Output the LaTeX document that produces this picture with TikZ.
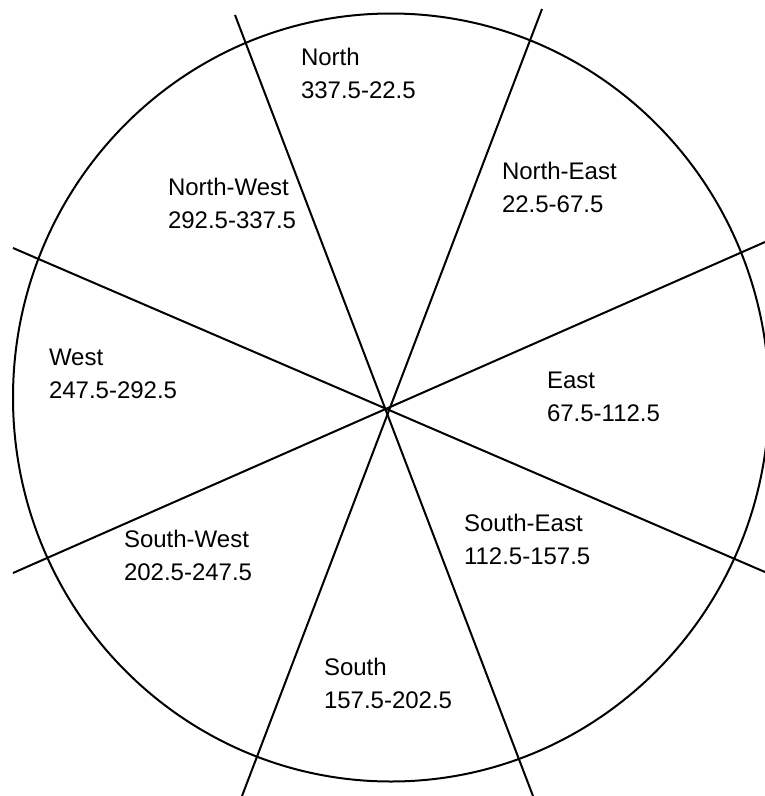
\documentclass[tikz,border=0pt]{standalone}
\usepackage{fontspec}
\setmainfont{Liberation Sans}
\begin{document}
\begin{tikzpicture}[x=1pt,y=-1pt,line width=2pt,
  sector/.style={anchor=base west,align=left,inner sep=0pt,
    font=\fontsize{24}{33}\selectfont}]
\useasboundingbox (0,0) rectangle (765,796);
\clip (0,0) rectangle (765,796);
\draw (391,397.5) ellipse (378 and 384);
% ends of the four dividing lines
\coordinate (wnw) at (13,248);
\coordinate (ese) at (765,572);
\coordinate (wsw) at (13,573);
\coordinate (ene) at (765,242);
\coordinate (nnw) at (235,15);
\coordinate (sse) at (533,796);
\coordinate (nne) at (542,9);
\coordinate (ssw) at (242,796);
\draw (wnw) -- (ese);
\draw (wsw) -- (ene);
\draw (nnw) -- (sse);
\draw (nne) -- (ssw);
% sector labels (anchor = baseline of the lower line)
\node[sector] (n) at (300,98) {North\\337.5-22.5};
\node[sector] (ne) at (501,212) {North-East\\22.5-67.5};
\node[sector] (nw) at (167,228) {North-West\\292.5-337.5};
\node[sector] (w) at (48,398) {West\\247.5-292.5};
\node[sector] (e) at (546,421) {East\\67.5-112.5};
\node[sector] (sw) at (123,580) {South-West\\202.5-247.5};
\node[sector] (se) at (463,564) {South-East\\112.5-157.5};
\node[sector] (s) at (323,708) {South\\157.5-202.5};
\end{tikzpicture}
\end{document}
